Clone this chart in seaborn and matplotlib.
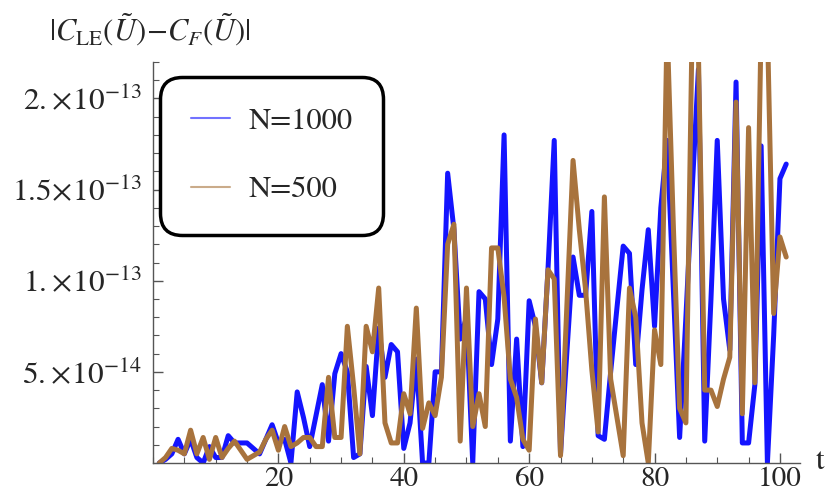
import numpy as np
import pandas as pd
import matplotlib
matplotlib.use("Agg")
import matplotlib.pyplot as plt
import seaborn as sns
from matplotlib.lines import Line2D
from matplotlib.ticker import FixedLocator, MultipleLocator

# values in units of 1e-14
t_values = list(range(1, 102))
n1000 = [0, 0.2, 0.5, 1.3, 0.5, 1.3, 0.3, 0, 0.9, 0.3,
         0.3, 1.5, 1.1, 1.1, 1.1, 0.8, 0.5, 1.3, 2.1, 1.1,
         1.3, 0, 3.9, 2.5, 0.9, 2.6, 4.3, 1.2, 4.9, 6.0,
         5.0, 0.3, 0.5, 5.3, 2.6, 7.4, 4.7, 6.5, 6.1, 0.8,
         2.2, 5.7, 0, 0, 5.0, 5.0, 15.9, 12.8, 6.8, 8.0,
         0, 9.4, 9.0, 5.4, 7.9, 18.0, 1.2, 6.8, 0.9, 8.9,
         7.5, 4.4, 10.6, 17.7, 0.5, 6.0, 11.3, 9.2, 9.2, 13.8,
         1.5, 1.3, 5.0, 8.5, 11.9, 11.5, 5.4, 9.5, 12.8, 7.5,
         14.0, 17.7, 9.5, 1.4, 8.0, 15.0, 21.6, 1.2, 9.0, 17.7,
         9.0, 6.2, 20.9, 1.1, 1.1, 4.3, 17.4, 0, 7.0, 15.6,
         16.4]
n500 = [0, 0.3, 0.8, 0.7, 0.5, 1.8, 0.5, 1.4, 0.2, 1.4,
        0.3, 0.8, 1.2, 0.7, 0.2, 0.4, 0.6, 1.3, 1.8, 0.7,
        2.0, 0.9, 1.1, 1.4, 1.4, 0.9, 0.9, 4.7, 1.4, 1.4,
        7.5, 4.2, 0.5, 7.5, 6.1, 9.6, 2.2, 1.1, 1.1, 3.8,
        2.7, 8.5, 1.9, 3.3, 2.6, 4.7, 12.0, 13.1, 1.2, 9.6,
        2.0, 3.8, 2.0, 11.8, 11.8, 9.1, 4.6, 3.6, 1.3, 0.7,
        7.9, 4.4, 10.6, 10.1, 0.4, 8.5, 16.6, 12.8, 9.5, 5.1,
        1.7, 14.6, 4.6, 2.5, 0.4, 9.6, 8.0, 2.2, 0, 7.3,
        5.4, 24.0, 13.0, 3.0, 2.2, 24.0, 22.5, 4.0, 4.0, 3.1,
        4.6, 5.8, 19.8, 2.7, 18.4, 4.4, 24.0, 24.0, 8.2, 12.4,
        11.3]
series_labels = ["N=1000", "N=500"]
ytick_vals = [5e-14, 1e-13, 1.5e-13, 2e-13]
ytick_labels = [r"$5.\!\times\!10^{-14}$", r"$1.\!\times\!10^{-13}$",
                r"$1.5\!\times\!10^{-13}$", r"$2.\!\times\!10^{-13}$"]
xtick_vals = [20, 40, 60, 80, 100]
unit = 1e-14

df = pd.DataFrame({
    "t": t_values * 2,
    "value": [v * unit for v in n1000] + [v * unit for v in n500],
    "series": [series_labels[0]] * len(t_values) + [series_labels[1]] * len(t_values),
})

sns.set_style("ticks")
plt.rcParams["font.family"] = ["STIXGeneral", "DejaVu Serif"]
plt.rcParams["mathtext.fontset"] = "stix"

colors = {"N=1000": "#1414ff", "N=500": "#a8733d"}

fig = plt.figure(figsize=(8.27, 4.93), dpi=100)
ax = fig.add_axes([153/827, 30/493, 647/827, 401/493])
sns.lineplot(data=df, x="t", y="value", hue="series", palette=colors,
             linewidth=3.6, ax=ax, legend=False, estimator=None, sort=False)

ax.set_xlim(0, 103.2)
ax.set_ylim(0, 22 * unit)
ax.set_xlabel("")
ax.set_ylabel("")
for s in ["top", "right"]:
    ax.spines[s].set_visible(False)
for s in ["left", "bottom"]:
    ax.spines[s].set_color("#555555")
    ax.spines[s].set_linewidth(1.0)

ax.xaxis.set_major_locator(FixedLocator(xtick_vals))
ax.xaxis.set_minor_locator(MultipleLocator(5))
ax.set_xticklabels([str(v) for v in xtick_vals])
ax.yaxis.set_major_locator(FixedLocator(ytick_vals))
ax.yaxis.set_minor_locator(MultipleLocator(1e-14))
ax.set_yticklabels(ytick_labels)
ax.tick_params(axis="both", which="major", direction="in", length=7, width=1.0,
               color="#555555", pad=5)
ax.tick_params(axis="x", which="major", labelsize=21, pad=3)
ax.tick_params(axis="y", which="major", labelsize=22.5, pad=8)
ax.tick_params(axis="both", which="minor", direction="in", length=4, width=0.8,
               color="#555555")

fig.text(150/827, 1 - 30/493, r"$|C_{\mathrm{LE}}(\tilde{U})\!-\!C_F(\tilde{U})|$",
         ha="center", va="center", fontsize=22)
fig.text(820/827, 1 - 462/493, "t", ha="center", va="center", fontsize=22)

handles = [Line2D([], [], color=colors[s], lw=1.5, alpha=0.6) for s in series_labels]
leg = ax.legend(handles, series_labels, loc="upper left",
                bbox_to_anchor=(0.011, 0.962), fontsize=22, frameon=True,
                handlelength=1.3, handletextpad=0.6, labelspacing=1.3,
                borderpad=1.0, borderaxespad=0.0)
frame = leg.get_frame()
frame.set_edgecolor("black")
frame.set_linewidth(2.5)
frame.set_facecolor("white")
frame.set_alpha(1)
frame.set_boxstyle("round,pad=0.0,rounding_size=0.7")

fig.savefig("out.png", dpi=100)
